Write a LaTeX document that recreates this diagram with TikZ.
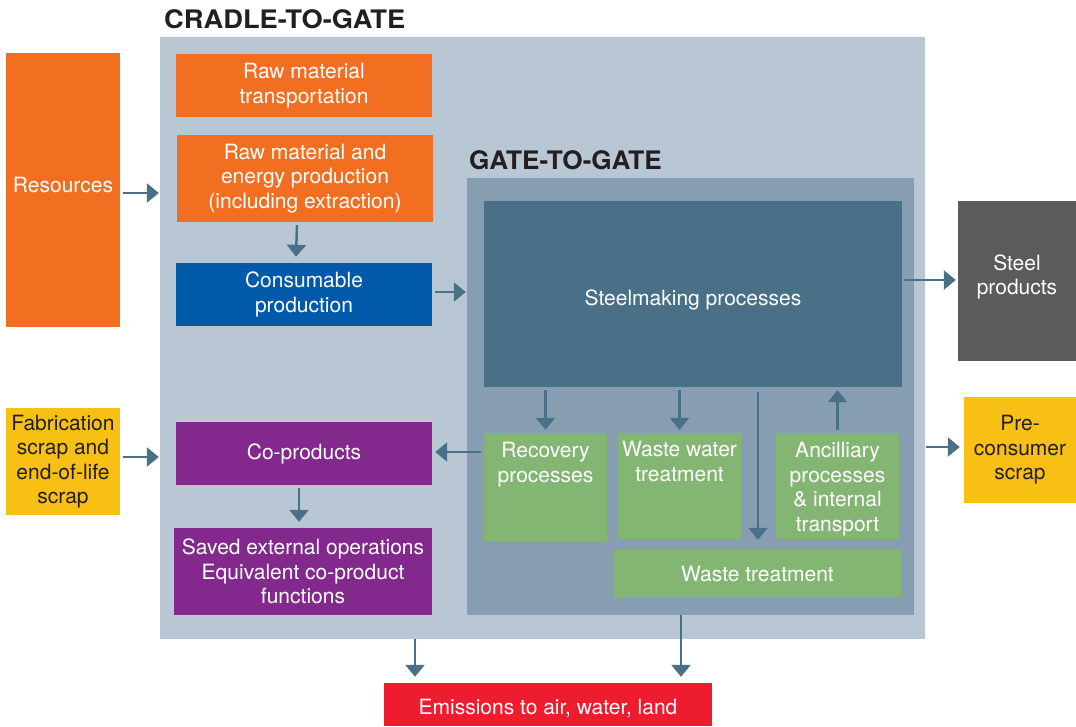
\documentclass[tikz,border=0pt]{standalone}
\usepackage{fontspec}
\setmainfont{TeX Gyre Heros}
\usetikzlibrary{arrows.meta,calc}
\definecolor{cradlebg}{HTML}{B9C7D4}
\definecolor{gatebg}{HTML}{879EB2}
\definecolor{steelc}{HTML}{4A7088}
\definecolor{orangec}{HTML}{F26F22}
\definecolor{bluec}{HTML}{0059A9}
\definecolor{purplec}{HTML}{83298E}
\definecolor{greenc}{HTML}{84B673}
\definecolor{greyc}{HTML}{5B5B5D}
\definecolor{yellowc}{HTML}{F8BF15}
\definecolor{redc}{HTML}{ED1C2E}
\definecolor{arrc}{HTML}{4A7088}
\definecolor{titlec}{HTML}{231F20}
\begin{document}
\begin{tikzpicture}[x=1pt,y=-1pt,
  box/.style={rectangle, inner sep=0pt, align=center, text=white,
    font=\fontsize{21}{24.5}\selectfont},
  darktext/.style={text=titlec},
  title/.style={inner sep=0pt, anchor=base west, text=titlec,
    font=\fontsize{25.5}{30}\selectfont\bfseries},
  arr/.style={draw=arrc, line width=2.5pt, -{Triangle[length=12pt,width=19pt]}},
]
\useasboundingbox (0,0) rectangle (1076,726);

% background frames
\node[box, fill=cradlebg, minimum width=765, minimum height=602] (cradle) at (542.5,338) {};
\node[title] (ctitle) at (164,28) {\scalebox{1.07}[1]{CRADLE-TO-GATE}};
\node[box, fill=gatebg, minimum width=447, minimum height=437] (gate) at (690.5,396.5) {};
\node[title] (gtitle) at (469,169) {\scalebox{1.027}[1]{GATE-TO-GATE}};

% left column
\node[box, fill=orangec, minimum width=114, minimum height=274] (res) at (63,190) {Resources\\[-14.5pt]\mbox{}};
\node[box, fill=yellowc, darktext, minimum width=114, minimum height=107] (fab) at (63,461.5) {Fabrication\\scrap and\\end-of-life\\scrap};

% cradle column
\node[box, fill=orangec, minimum width=256, minimum height=63] (rmt) at (304,85.5) {Raw material\\transportation};
\node[box, fill=orangec, minimum width=256, minimum height=87] (rme) at (305,178.5) {Raw material and\\energy production\\(including extraction)};
\node[box, fill=bluec, minimum width=256, minimum height=63] (cons) at (304,294.5) {Consumable\\production};
\node[box, fill=purplec, minimum width=256, minimum height=63] (cop) at (304,453.5) {Co-products};
\node[box, fill=purplec, minimum width=258, minimum height=87] (saved) at (303,571.5) {Saved external operations\\Equivalent co-product\\functions};

% gate content
\node[box, fill=steelc, minimum width=418, minimum height=186] (steel) at (693,294) {\mbox{}\\[2.5pt]Steelmaking processes};
\node[box, fill=greenc, minimum width=123, minimum height=108] (rec) at (545.5,487) {Recovery\\processes\\[24.5pt]\mbox{}};
\node[box, fill=greenc, minimum width=123, minimum height=106] (ww) at (679.5,486) {Waste water\\treatment\\[24.5pt]\mbox{}};
\node[box, fill=greenc, minimum width=123, minimum height=106] (anc) at (837.5,486) {\mbox{}\\[-3pt]Ancilliary\\processes\\\& internal\\transport};
\node[box, fill=greenc, minimum width=287, minimum height=48] (wt) at (757.5,574) {Waste treatment};

% right column
\node[box, fill=greyc, minimum width=118, minimum height=160] (prod) at (1017,281) {Steel\\products\\[-12pt]\mbox{}};
\node[box, fill=yellowc, darktext, minimum width=112, minimum height=106] (pre) at (1020,450) {Pre-\\consumer\\scrap};

% bottom
\node[box, fill=redc, minimum width=328, minimum height=43] (emis) at (548,704.5) {\mbox{}\\[-1.5pt]Emissions to air, water, land};

% connectors
\draw[arr] ([shift={(3,3)}]res.east) -- ([shift={(-1,3)}]res.east -| cradle.west);
\draw[arr] ([shift={(3,-4.5)}]fab.east) -- ([shift={(-1,-4.5)}]fab.east -| cradle.west);
\draw[arr] ([shift={(-8,3)}]rme.south) -- ([shift={(-8,-6)}]cons.north);
\draw[arr] ([shift={(3,-2.5)}]cons.east) -- ([shift={(-1,-2.5)}]cons.east -| gate.west);
\draw[arr] ([shift={(-5,3)}]cop.south) -- ([shift={(-4,-6)}]saved.north);
\coordinate (sp) at ([shift={(-2,-1)}]prod.west);
\draw[arr] ([xshift=2pt]steel.east |- sp) -- (sp);
\draw[arr] ([yshift=-3]steel.south -| rec.north) -- ([yshift=3]rec.north);
\draw[arr] ([yshift=-3]steel.south -| ww.north) -- ([yshift=3]ww.north);
\coordinate (wtin) at ([shift={(0.5,-10)}]wt.north);
\draw[arr] (wtin |- steel.south) ++(0,5) -- (wtin);
\draw[arr] ([yshift=3]anc.north) -- ([yshift=-3]anc.north |- steel.south);
\coordinate (recout) at ([shift={(-3,-35)}]rec.west);
\draw[arr] (recout) -- ([xshift=3pt]recout -| cop.east);
\draw[arr] ([shift={(1,-3)}]cradle.east |- pre.west) -- ([shift={(-4,-3)}]pre.west);
\coordinate (emisL) at (415,0);
\coordinate (emisR) at (681,0);
\draw[arr] (emisL |- cradle.south) -- ([yshift=6]emisL |- emis.north);
\draw[arr] (emisR |- gate.south) -- ([yshift=6]emisR |- emis.north);
\end{tikzpicture}
\end{document}
